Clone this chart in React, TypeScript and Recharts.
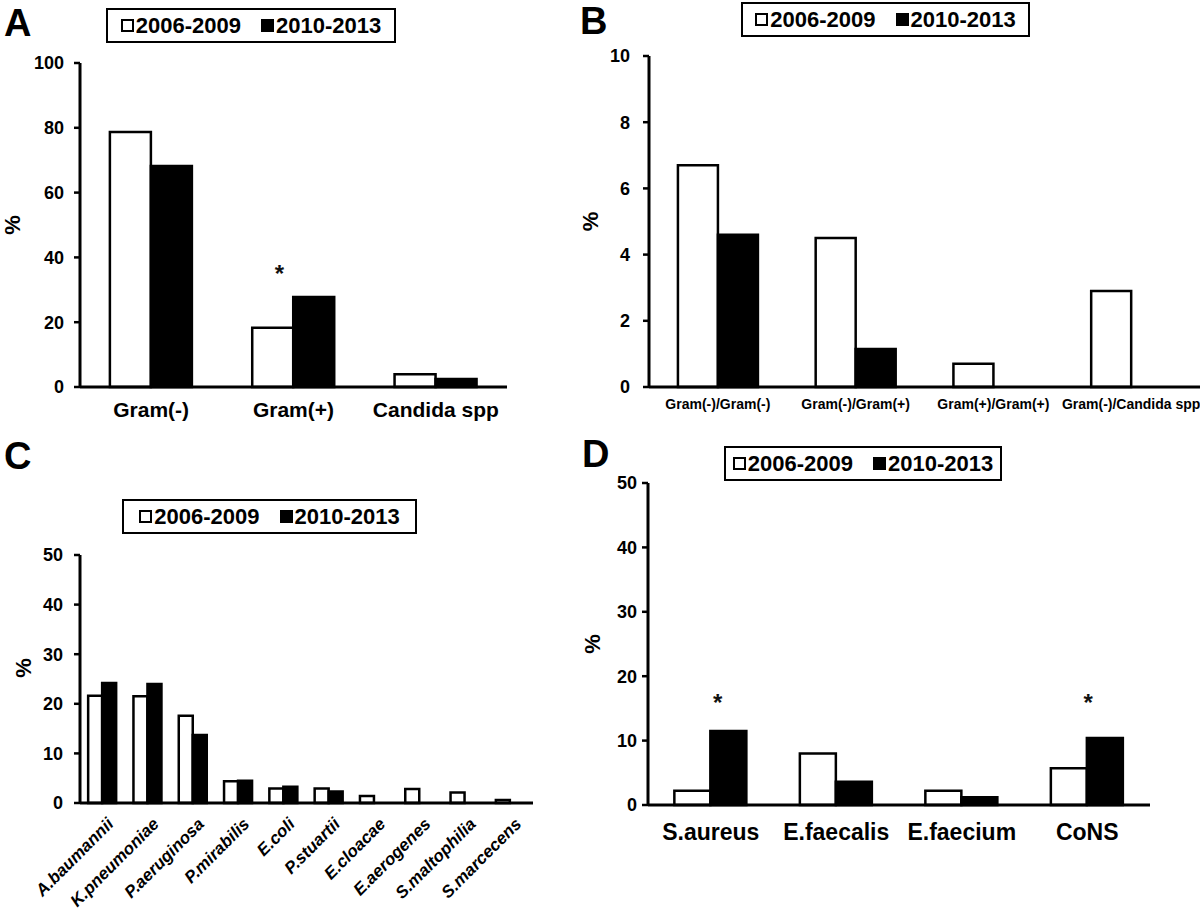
import React from "react";
import { BarChart, Bar, XAxis, YAxis, ReferenceDot } from "recharts";

// period names (legend + series)
const periods = ["2006-2009", "2010-2013"];

// A: bloodstream isolates by group
const catsA = ["Gram(-)", "Gram(+)", "Candida spp"];
const a0609 = [78.7, 18.3, 3.9];
const a1013 = [68.2, 27.8, 2.5];
const starsA = [{ cat: "Gram(+)", y: 36.4 }];
const ticksA = [0, 20, 40, 60, 80, 100];

// B: polymicrobial combinations
const catsB = ["Gram(-)/Gram(-)", "Gram(-)/Gram(+)", "Gram(+)/Gram(+)", "Gram(-)/Candida spp"];
const b0609 = [6.7, 4.5, 0.7, 2.9];
const b1013 = [4.6, 1.15, 0, 0];
const ticksB = [0, 2, 4, 6, 8, 10];

// C: gram negative species
const catsC = [
  "A.baumannii", "K.pneumoniae", "P.aeruginosa", "P.mirabilis", "E.coli",
  "P.stuartii", "E.cloacae", "E.aerogenes", "S.maltophilia", "S.marcecens",
];
const c0609 = [21.6, 21.5, 17.6, 4.4, 2.9, 2.9, 1.4, 2.8, 2.1, 0.6];
const c1013 = [24.2, 24.0, 13.7, 4.5, 3.3, 2.3, 0, 0, 0, 0];
const ticksC = [0, 10, 20, 30, 40, 50];

// D: gram positive species
const catsD = ["S.aureus", "E.faecalis", "E.faecium", "CoNS"];
const d0609 = [2.2, 8.0, 2.2, 5.7];
const d1013 = [11.5, 3.6, 1.2, 10.4];
const starsD = [{ cat: "S.aureus", y: 16.6 }, { cat: "CoNS", y: 16.6 }];
const ticksD = [0, 10, 20, 30, 40, 50];

const FONT = '"Liberation Sans", Arial, Helvetica, sans-serif';

const build = (cats: string[], p1: number[], p2: number[]) =>
  cats.map((c, i) => ({ name: c, p1: p1[i], p2: p2[i] }));

const pctLabel = (dx: number, dy = 0) => ({
  content: (props: any) => {
    const vb = props.viewBox || {};
    const cx = vb.x + vb.width - dx;
    const cy = vb.y + vb.height / 2 + dy;
    return (
      <text x={cx} y={cy} transform={`rotate(-90 ${cx} ${cy})`} textAnchor="middle"
        dominantBaseline="central" fontSize={22} fontWeight="bold" fill="#000" fontFamily={FONT}>
        %
      </text>
    );
  },
});

// asterisk drawn a little off the group centre, like the original
const starShape = (shift: (cat: string) => number) => (p: any) => (
  <text x={p.cx + shift(p.x)} y={p.cy + 13} textAnchor="middle" fontSize={24} fontWeight="bold" fill="#111" fontFamily={FONT}>
    *
  </text>
);

const CTick = (props: any) => {
  const { x, y, payload } = props;
  return (
    <g transform={`translate(${x + 12},${y + 20})`}>
      <text x={0} y={0} textAnchor="end" transform="rotate(-45)" fontSize={17} fontWeight="bold"
        fontStyle="italic" fill="#000" fontFamily={FONT}>
        {payload.value}
      </text>
    </g>
  );
};

const Legend = ({ left, top, width }: { left: number; top: number; width: number }) => (
  <div style={{
    position: "absolute", left, top, width, height: 35, boxSizing: "border-box",
    border: "2px solid #000", display: "flex", alignItems: "center", justifyContent: "center",
    gap: 20, fontFamily: FONT, fontWeight: "bold", fontSize: 22, color: "#000", background: "#fff",
  }}>
    {periods.map((p, i) => (
      <span key={p} style={{ display: "flex", alignItems: "center" }}>
        <span style={{
          display: "inline-block", width: 13, height: 13, boxSizing: "border-box",
          border: "2px solid #000", background: i === 0 ? "#fff" : "#000", marginRight: 2,
        }} />
        {p}
      </span>
    ))}
  </div>
);

const Letter = ({ t, left, top }: { t: string; left: number; top: number }) => (
  <div style={{ position: "absolute", left, top, fontFamily: FONT, fontWeight: "bold", fontSize: 38, lineHeight: 1 }}>
    {t}
  </div>
);

const axisLine = { stroke: "#000", strokeWidth: 3 };
const yTickLine = { stroke: "#000", strokeWidth: 2.5 };
const yTick = { fill: "#000", fontSize: 18, fontWeight: "bold", fontFamily: FONT };

function Bars() {
  return [
    <Bar key="p1" dataKey="p1" name={periods[0]} fill="#fff" stroke="#000" strokeWidth={2.5} isAnimationActive={false} />,
    <Bar key="p2" dataKey="p2" name={periods[1]} fill="#000" stroke="#000" strokeWidth={2.5} isAnimationActive={false} />,
  ];
}

const StarA = starShape(() => -14);
const StarD = starShape((c) => (c === "S.aureus" ? 7 : 1));

export default function App() {
  return (
    <div style={{ position: "absolute", left: 0, top: 0, width: 1200, height: 912, background: "#fff", fontFamily: FONT, overflow: "hidden" }}>
      {/* A */}
      <div style={{ position: "absolute", left: 0, top: 0 }}>
        <BarChart width={600} height={440} data={build(catsA, a0609, a1013)} barGap={0} barCategoryGap="21%"
          margin={{ top: 63, right: 93, left: 20, bottom: 13 }}>
          <XAxis dataKey="name" interval={0} axisLine={axisLine} tickLine={false} tickSize={0} tickMargin={15} height={40}
            tick={{ fill: "#000", fontSize: 21, fontWeight: "bold", fontFamily: FONT }} />
          <YAxis domain={[0, 100]} ticks={ticksA} width={60} axisLine={axisLine} tickLine={yTickLine} tickSize={6}
            tickMargin={10} tick={yTick} label={pctLabel(68)} />
          {Bars()}
          {starsA.map((s) => (
            <ReferenceDot key={s.cat} x={s.cat} y={s.y} r={0} shape={StarA} />
          ))}
        </BarChart>
      </div>
      <Legend left={106} top={8} width={290} />
      <Letter t="A" left={4} top={4} />

      {/* B */}
      <div style={{ position: "absolute", left: 560, top: 0 }}>
        <BarChart width={640} height={440} data={build(catsB, b0609, b1013)} barGap={0} barCategoryGap="21%"
          margin={{ top: 56, right: 0, left: 48, bottom: 13 }}>
          <XAxis dataKey="name" interval={0} axisLine={axisLine} tickLine={false} tickSize={0} tickMargin={12} height={40}
            tick={{ fill: "#000", fontSize: 14, fontWeight: "bold", fontFamily: FONT }} />
          <YAxis domain={[0, 10]} ticks={ticksB} width={41} axisLine={axisLine} tickLine={yTickLine} tickSize={6}
            tickMargin={13} tick={yTick} label={pctLabel(59)} />
          {Bars()}
        </BarChart>
      </div>
      <Legend left={741} top={2} width={289} />
      <Letter t="B" left={580} top={2} />

      {/* C */}
      <div style={{ position: "absolute", left: 0, top: 440 }}>
        <BarChart width={600} height={472} data={build(catsC, c0609, c1013)} barGap={0} barCategoryGap="18%"
          margin={{ top: 115, right: 67, left: 20, bottom: 9 }}>
          <XAxis dataKey="name" interval={0} axisLine={axisLine} tickLine={false} tickSize={0} height={100}
            tick={<CTick />} />
          <YAxis domain={[0, 50]} ticks={ticksC} width={60} axisLine={axisLine} tickLine={yTickLine} tickSize={6}
            tickMargin={11} tick={yTick} label={pctLabel(57, -11)} />
          {Bars()}
        </BarChart>
      </div>
      <Legend left={122} top={499} width={295} />
      <Letter t="C" left={4} top={437} />

      {/* D */}
      <div style={{ position: "absolute", left: 560, top: 440 }}>
        <BarChart width={640} height={472} data={build(catsD, d0609, d1013)} barGap={0} barCategoryGap="21%"
          margin={{ top: 43, right: 50, left: 48, bottom: 67 }}>
          <XAxis dataKey="name" interval={0} axisLine={axisLine} tickLine={false} tickSize={0} tickMargin={19} height={40}
            tick={{ fill: "#000", fontSize: 23, fontWeight: "bold", fontFamily: FONT }} />
          <YAxis domain={[0, 50]} ticks={ticksD} width={40} axisLine={axisLine} tickLine={yTickLine} tickSize={6}
            tickMargin={5} tick={yTick} label={pctLabel(56)} />
          {Bars()}
          {starsD.map((s) => (
            <ReferenceDot key={s.cat} x={s.cat} y={s.y} r={0} shape={StarD} />
          ))}
        </BarChart>
      </div>
      <Legend left={724} top={446} width={278} />
      <Letter t="D" left={582} top={435} />
    </div>
  );
}
